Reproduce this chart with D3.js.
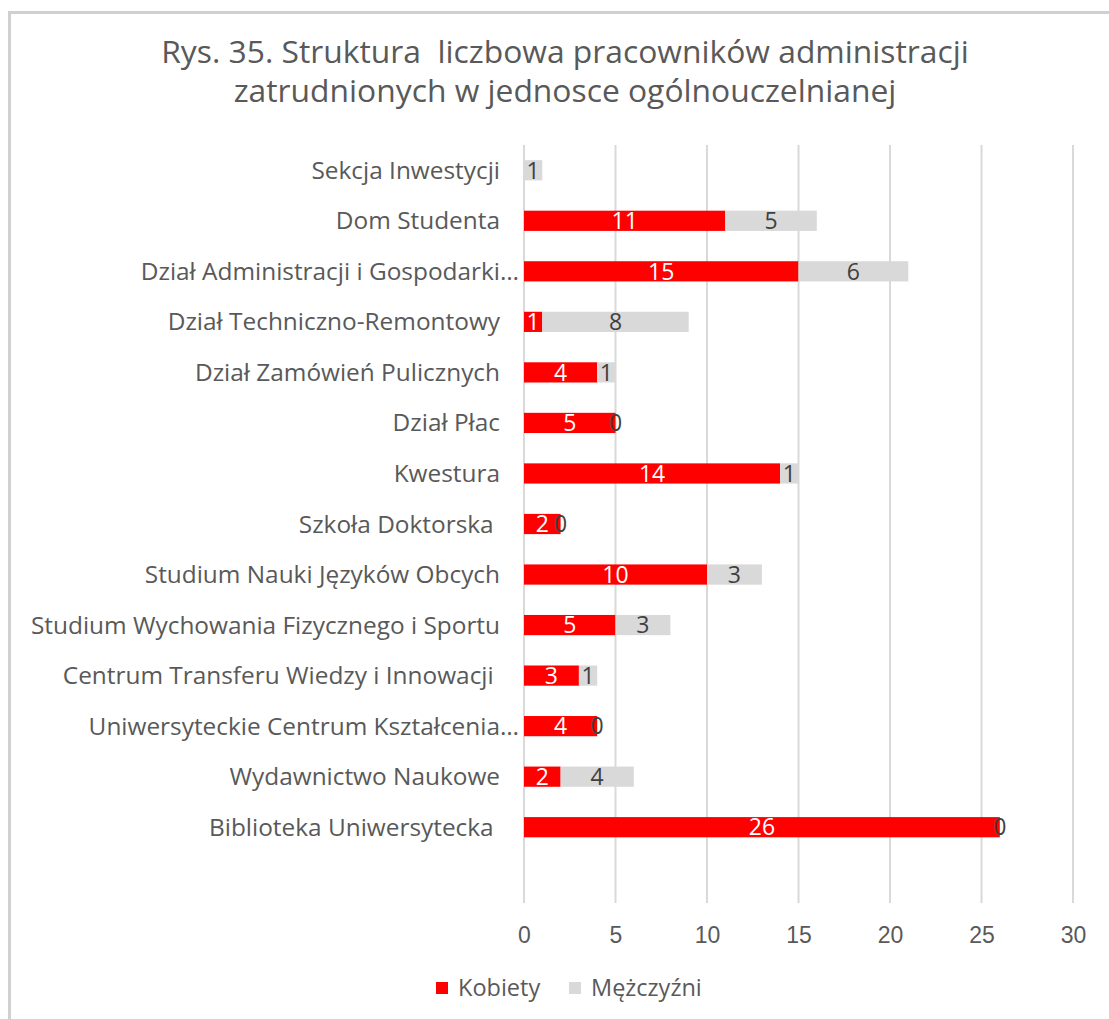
<!DOCTYPE html>
<html lang="pl">
<head>
<meta charset="utf-8">
<script src="https://cdn.jsdelivr.net/npm/d3@7"></script>
<style>
  html, body { margin: 0; padding: 0; background: #fff; }
  svg { display: block; font-family: "Open Sans", "Noto Sans", sans-serif; }
  .cat { white-space: pre; }
</style>
</head>
<body>
<svg id="chart" width="1109" height="1019"></svg>
<script>
// Jednostki ogólnouczelniane (od góry wykresu)
const categories = [
  "Sekcja Inwestycji",
  "Dom Studenta",
  "Dział Administracji i Gospodarki…",
  "Dział Techniczno-Remontowy",
  "Dział Zamówień Pulicznych",
  "Dział Płac",
  "Kwestura",
  "Szkoła Doktorska ",
  "Studium Nauki Języków Obcych",
  "Studium Wychowania Fizycznego i Sportu",
  "Centrum Transferu Wiedzy i Innowacji ",
  "Uniwersyteckie Centrum Kształcenia…",
  "Wydawnictwo Naukowe",
  "Biblioteka Uniwersytecka "
];
const kobiety   = [0, 11, 15, 1, 4, 5, 14, 2, 10, 5, 3, 4, 2, 26];
const mezczyzni = [1,  5,  6, 8, 1, 0,  1, 0,  3, 3, 1, 0, 4,  0];
const seriesNames = ["Kobiety", "Mężczyźni"];
const xTicks = [0, 5, 10, 15, 20, 25, 30];
const titleLines = [
  "Rys. 35. Struktura  liczbowa pracowników administracji",
  "zatrudnionych w jednosce ogólnouczelnianej"
];

const colors = { Kobiety: "#ff0000", "Mężczyźni": "#d9d9d9" };
const labelColors = { Kobiety: "#ffffff", "Mężczyźni": "#404040" };
const textColor = "#595959";

const svg = d3.select("#chart");

// Ramka wykresu (widoczna krawędź górna i lewa)
svg.append("path")
  .attr("d", "M9.5,1019 V12.5 H1109")
  .attr("fill", "none")
  .attr("stroke", "#d0d0d0")
  .attr("stroke-width", 3);

// Tytuł
svg.append("g").selectAll("text")
  .data(titleLines)
  .join("text")
  .attr("class", "cat")
  .attr("x", 565)
  .attr("y", (d, i) => 63 + i * 39)
  .attr("text-anchor", "middle")
  .attr("font-size", 31.8)
  .attr("fill", textColor)
  .text(d => d);

// Obszar kreślenia
const plot = { left: 524, right: 1073, top: 145, bottom: 903 };
const nSlots = categories.length + 1; // pusty wiersz pod ostatnią kategorią
const step = (plot.bottom - plot.top) / nSlots;

const x = d3.scaleLinear().domain([0, 30]).range([plot.left, plot.right]);
const y = d3.scaleBand()
  .domain(categories)
  .range([plot.top, plot.top + step * categories.length])
  .paddingInner(0.6)
  .paddingOuter(0.3);

// Linie siatki
svg.append("g").selectAll("line")
  .data(xTicks)
  .join("line")
  .attr("x1", d => x(d)).attr("x2", d => x(d))
  .attr("y1", plot.top).attr("y2", plot.bottom)
  .attr("stroke", "#d9d9d9")
  .attr("stroke-width", 2);

// Oś X
const xAxis = svg.append("g")
  .attr("transform", `translate(0,${plot.bottom})`)
  .call(d3.axisBottom(x).tickValues(xTicks).tickSize(0).tickPadding(24));
xAxis.select(".domain").remove();
xAxis.selectAll("text")
  .attr("font-family", null)
  .attr("font-size", 23)
  .attr("fill", textColor);

// Etykiety kategorii
svg.append("g").selectAll("g")
  .data(categories)
  .join("g")
  .each(function (d) {
    const g = d3.select(this);
    const cy = y(d) + y.bandwidth() / 2;
    const truncated = d.endsWith("…");
    const main = truncated ? d.slice(0, -1) : d;
    g.append("text")
      .attr("class", "cat")
      .attr("x", 500)
      .attr("y", cy)
      .attr("dy", "0.35em")
      .attr("text-anchor", "end")
      .attr("font-size", 24.4)
      .attr("fill", textColor)
      .text(main);
    if (truncated) {
      g.append("text")
        .attr("x", 500)
        .attr("y", cy)
        .attr("dy", "0.35em")
        .attr("font-size", 24.4)
        .attr("fill", textColor)
        .text("…");
    }
  });

// Słupki skumulowane
const rows = categories.map((c, i) => ({ cat: c, Kobiety: kobiety[i], "Mężczyźni": mezczyzni[i] }));
const stacked = d3.stack().keys(seriesNames)(rows);

const layers = svg.append("g").selectAll("g")
  .data(stacked)
  .join("g")
  .attr("fill", s => colors[s.key]);

layers.selectAll("rect")
  .data(s => s)
  .join("rect")
  .attr("x", d => x(d[0]))
  .attr("y", d => y(d.data.cat))
  .attr("width", d => x(d[1]) - x(d[0]))
  .attr("height", y.bandwidth());

// Etykiety wartości (białe zera na białym tle pomijamy – są niewidoczne)
svg.append("g").selectAll("g")
  .data(stacked)
  .join("g")
  .each(function (s) {
    const visible = s.filter(d => !(s.key === "Kobiety" && d.data[s.key] === 0));
    d3.select(this).selectAll("text")
      .data(visible)
      .join("text")
      .attr("x", d => (x(d[0]) + x(d[1])) / 2)
      .attr("y", d => y(d.data.cat) + y.bandwidth() / 2)
      .attr("dy", "0.36em")
      .attr("text-anchor", "middle")
      .attr("font-size", 23)
      .attr("fill", labelColors[s.key])
      .text(d => d.data[s.key]);
  });

// Legenda
const legend = svg.append("g").attr("transform", "translate(436,988)");
const legendOffsets = [0, 133];
const items = legend.selectAll("g")
  .data(seriesNames)
  .join("g")
  .attr("transform", (d, i) => `translate(${legendOffsets[i]},0)`);
items.append("rect")
  .attr("x", 0).attr("y", -6)
  .attr("width", 12).attr("height", 12)
  .attr("fill", d => colors[d]);
items.append("text")
  .attr("x", 22)
  .attr("y", 0)
  .attr("dy", "0.35em")
  .attr("font-size", 23.5)
  .attr("fill", textColor)
  .text(d => d);
</script>
</body>
</html>
